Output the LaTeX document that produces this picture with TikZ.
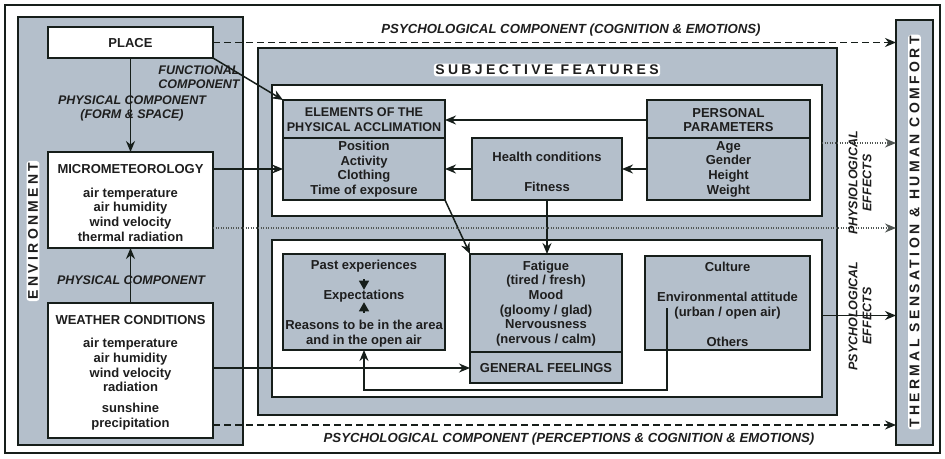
\documentclass[tikz,border=0pt]{standalone}
\usepackage{fontspec}
\setmainfont{Liberation Sans}
\newfontfamily\spacedfont[LetterSpace=24]{Liberation Sans}
\usetikzlibrary{arrows.meta,calc}
\definecolor{boxgrey}{RGB}{180,191,203}
\definecolor{linec}{RGB}{22,30,26}
\definecolor{txtc}{RGB}{30,30,30}
\begin{document}
\begin{tikzpicture}[x=1pt,y=-1pt,
  frame/.style={draw=linec,line width=1.8pt,inner sep=0pt,outer sep=0pt,anchor=north west},
  greybox/.style={frame,fill=boxgrey},
  whitebox/.style={frame,fill=white},
  txt/.style={font=\bfseries\fontsize{13}{14.7}\selectfont,align=center,text=txtc,inner sep=0pt},
  lbl/.style={font=\bfseries\itshape\fontsize{12.5}{14}\selectfont,align=center,text=txtc,inner sep=0pt},
  longlbl/.style={lbl,font=\bfseries\itshape\fontsize{13.2}{14}\selectfont},
  big/.style={font=\spacedfont\bfseries\fontsize{14}{16}\selectfont,text=txtc,fill=white,rounded corners=3pt,inner sep=1.5pt},
  arr/.style={-{Stealth[length=11pt,width=9pt]},line width=1.5pt,draw=linec},
  smallarr/.style={-{Triangle[length=9pt,width=10pt]},line width=1.2pt,draw=linec},
  dasharr/.style={arr,dash pattern=on 7pt off 4pt},
  dotarr/.style={-{Stealth[length=11pt,width=9pt]},line width=1.3pt,draw=linec!75,dash pattern=on 1.2pt off 1.3pt},
  divider/.style={draw=linec,line width=1.8pt},
]
\useasboundingbox (0,0) rectangle (945,458);
\fill[white] (0,0) rectangle (945,458);
\node[frame,line width=1.5pt,minimum width=935pt,minimum height=448pt] (outer) at (5,5) {};

% containers
\node[greybox,minimum width=225pt,minimum height=428pt] (env) at (18,17) {};
\node[greybox,minimum width=579pt,minimum height=367pt] (subj) at (258,48) {};
\node[whitebox,minimum width=550pt,minimum height=131pt] (upperw) at (272,85) {};
\node[whitebox,minimum width=550pt,minimum height=157pt] (lowerw) at (272,240) {};
\node[greybox,minimum width=37pt,minimum height=425pt] (thermal) at (896,20) {};

% environment boxes
\node[whitebox,minimum width=165pt,minimum height=31pt] (place) at (48,27) {};
\node[whitebox,minimum width=165pt,minimum height=96pt] (micro) at (48,152) {};
\node[whitebox,minimum width=165pt,minimum height=135pt] (weather) at (48,303) {};

% subjective boxes
\node[greybox,minimum width=162pt,minimum height=100pt] (elem) at (283,100) {};
\node[greybox,minimum width=150pt,minimum height=62pt] (health) at (472,138) {};
\node[greybox,minimum width=163pt,minimum height=100pt] (pers) at (647,100) {};
\node[greybox,minimum width=162pt,minimum height=96pt] (past) at (283,254) {};
\node[greybox,minimum width=152pt,minimum height=129pt] (fatigue) at (470,254) {};
\node[greybox,minimum width=165pt,minimum height=94pt] (culture) at (645,256) {};

\draw[divider] ($(elem.north west)+(0,38)$) -- ($(elem.north east)+(0,38)$);
\draw[divider] ($(pers.north west)+(0,38)$) -- ($(pers.north east)+(0,38)$);
\draw[divider] ($(fatigue.north west)+(0,98)$) -- ($(fatigue.north east)+(0,98)$);

% texts
\node[txt] (placet) at (130.5,43) {PLACE};
\node[txt] (microt) at (130.5,169) {MICROMETEOROLOGY};
\node[txt] (microb) at (130.5,214.5) {air temperature\\air humidity\\wind velocity\\thermal radiation};
\node[txt] (weathert) at (130.5,320) {WEATHER CONDITIONS};
\node[txt] (weatherb) at (130.5,365) {air temperature\\air humidity\\wind velocity\\radiation};
\node[txt] (weathers) at (130.5,416.5) {sunshine\\precipitation};

\node[txt,font=\bfseries\fontsize{12.6}{14.7}\selectfont] (elemt) at (364,120) {ELEMENTS OF THE\\PHYSICAL ACCLIMATION};
\node[txt] (elemb) at (364,169) {Position\\Activity\\Clothing\\Time of exposure};
\node[txt] (healtht) at (547,157) {Health conditions};
\node[txt] (fitt) at (547,187) {Fitness};
\node[txt] (perst) at (728.5,120) {PERSONAL\\PARAMETERS};
\node[txt] (persb) at (728.5,169) {Age\\Gender\\Height\\Weight};

\node[txt] (pastt) at (364,266) {Past experiences};
\node[txt] (expt) at (364,296) {Expectations};
\node[txt] (reas) at (364,333.5) {Reasons to be in the area\\and in the open air};
\node[txt] (fatb) at (546,303.5) {Fatigue\\(tired / fresh)\\Mood\\(gloomy / glad)\\Nervousness\\(nervous / calm)};
\node[txt] (gf) at (546,368) {GENERAL FEELINGS};
\node[txt] (cult) at (727.5,267) {Culture};
\node[txt] (envat) at (727.5,305.5) {Environmental attitude\\(urban / open air)};
\node[txt] (oth) at (727.5,342) {Others};

% connectors
\draw[arr] (place.south) -- (micro.north);
\draw[arr] (weather.north) -- (micro.south);
\draw[arr] (place.south east) -- (elem.north west);
\draw[arr] (micro.east |- elemb) -- (elem.west |- elemb);
\draw[arr] (pers.west |- perst) -- (elem.east |- perst);
\draw[arr] (pers.west |- persb) -- (health.east |- persb);
\draw[arr] (health.west |- persb) -- (elem.east |- persb);
\draw[arr] (health.south) -- (health.south |- fatigue.north);
\draw[arr] (elem.south east) -- (fatigue.north west);
\draw[arr] (weather.east |- gf) -- (fatigue.west |- gf);
\coordinate (cstart) at (667,308);
\coordinate (cturn) at (364,390);
\draw[arr] (cstart) |- (cturn) -- (past.south);
\draw[smallarr,shorten <=7pt] (pastt.south) -- (expt.north);
\draw[smallarr,shorten <=7pt] (reas.north) -- (expt.south);

\draw[dasharr] (place.east) -- (thermal.west |- place.east);
\coordinate (wd) at ($(weather.south east)+(0,-13)$);
\draw[dasharr] (wd) -- (wd -| thermal.west);
\coordinate (md) at ($(micro.south east)+(0,-20)$);
\draw[dotarr] (md) -- (md -| thermal.west);
\coordinate (ud) at ($(upperw.north east)+(0,58)$);
\draw[dotarr] (ud) -- (ud -| thermal.west);
\coordinate (ld) at ($(lowerw.east)+(0,-3)$);
\draw[arr] (ld) -- (ld -| thermal.west);

% labels
\node[lbl] (pc1) at (132,108) {PHYSICAL COMPONENT\\(FORM \& SPACE)};
\node[lbl] (fc) at (199,77) {FUNCTIONAL\\COMPONENT};
\node[lbl] (pc2) at (131,280) {PHYSICAL COMPONENT};
\node[longlbl] (psy1) at (571,30) {PSYCHOLOGICAL COMPONENT (COGNITION \& EMOTIONS)};
\node[longlbl] (psy2) at (569,439) {PSYCHOLOGICAL COMPONENT (PERCEPTIONS \& COGNITION \& EMOTIONS)};
\node[lbl,rotate=90] (physeff) at (860,183) {PHYSIOLOGICAL\\EFFECTS};
\node[lbl,rotate=90] (psyeff) at (860,316) {PSYCHOLOGICAL\\EFFECTS};

\node[big] (subjt) at (547,70) {SUBJECTIVE FEATURES};
\node[big,rotate=90] (envt) at (33,231) {ENVIRONMENT};
\node[big,rotate=90] (thermt) at (914.5,232) {THERMAL SENSATION \& HUMAN COMFORT};
\end{tikzpicture}
\end{document}
